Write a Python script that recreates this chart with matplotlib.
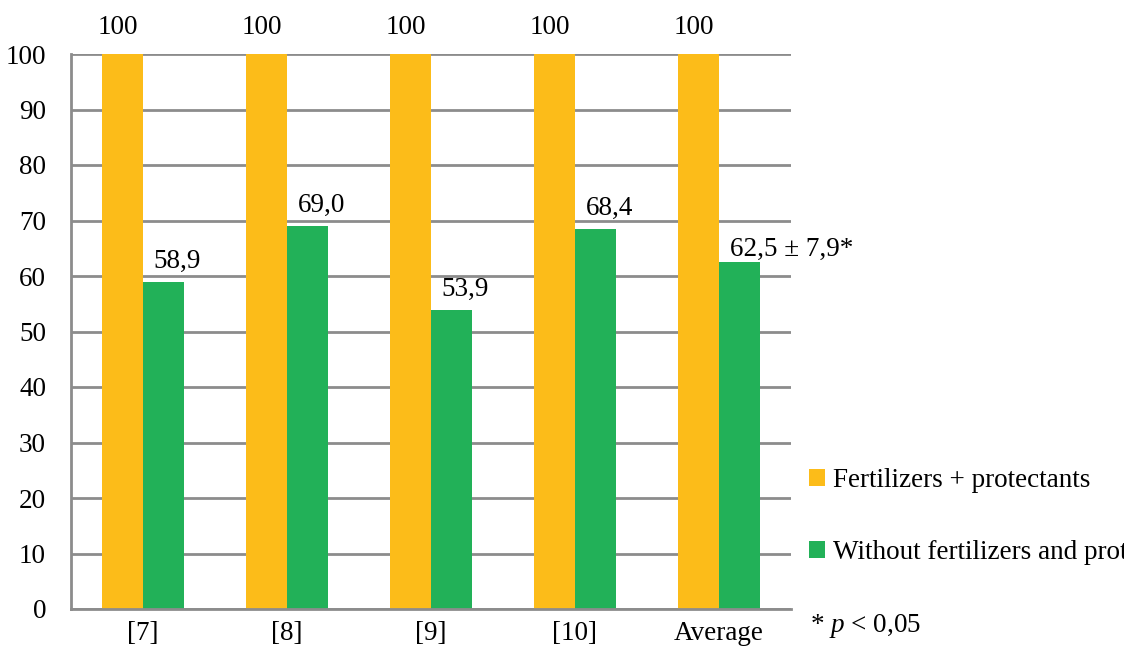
import matplotlib
matplotlib.use("Agg")
import matplotlib.pyplot as plt
import numpy as np

categories = ["[7]", "[8]", "[9]", "[10]", "Average"]
with_fert = [100, 100, 100, 100, 100]
without_fert = [58.9, 69.0, 53.9, 68.4, 62.5]
without_labels = ["58,9", "69,0", "53,9", "68,4", "62,5 ± 7,9*"]
series_names = ["Fertilizers + protectants", "Without fertilizers and protectants"]
yticks = list(range(0, 101, 10))

plt.rcParams['font.family'] = ['Liberation Serif', 'DejaVu Serif']
plt.rcParams['mathtext.fontset'] = 'custom'
plt.rcParams['mathtext.it'] = 'Liberation Serif:italic'
plt.rcParams['mathtext.rm'] = 'Liberation Serif'
FS = 19.5
orange = "#FCBC19"
green = "#22B158"
grid = "#8C8C8C"

fig = plt.figure(figsize=(11.24, 6.48), dpi=100)
ax = fig.add_axes([71/1124, 39/648, 720/1124, 555/648])

x = np.arange(len(categories))
w = 0.285
b1 = ax.bar(x - w/2, with_fert, w, color=orange, label=series_names[0], zorder=3)
b2 = ax.bar(x + w/2, without_fert, w, color=green, label=series_names[1], zorder=3)

ax.set_xlim(-0.5, len(categories) - 0.5)
ax.set_ylim(0, 100)
ax.set_yticks(yticks)
ax.set_yticklabels([str(t) for t in yticks], fontsize=FS)
ax.set_xticks(x)
ax.set_xticklabels(categories, fontsize=FS)
ax.tick_params(axis='y', length=0, pad=18)
ax.tick_params(axis='x', length=0, pad=9)
ax.yaxis.grid(True, color=grid, linewidth=2, zorder=0)
for s in ["top", "right"]:
    ax.spines[s].set_visible(False)
for s in ["left", "bottom"]:
    ax.spines[s].set_color(grid)
    ax.spines[s].set_linewidth(2)
    ax.spines[s].set_zorder(4)

for rect, v in zip(b1, with_fert):
    ax.annotate(str(v), (rect.get_x() + rect.get_width()/2, v), xytext=(-3, 10),
                textcoords="offset points", ha="center", va="bottom", fontsize=FS,
                annotation_clip=False)
for i, (rect, lab) in enumerate(zip(b2, without_labels)):
    cx = rect.get_x() + rect.get_width()/2
    if i == len(categories) - 1:
        ax.annotate(lab, (cx, rect.get_height()), xytext=(-7, 0),
                    textcoords="offset points", ha="left", va="bottom", fontsize=FS)
    else:
        ax.annotate(lab, (cx, rect.get_height()), xytext=(10, 6),
                    textcoords="offset points", ha="center", va="bottom", fontsize=FS)

leg = fig.legend(loc="upper left", bbox_to_anchor=(798/1124, 1 - 457/648),
                 frameon=False, fontsize=FS, handlelength=0.6, handleheight=0.6,
                 handletextpad=0.3, labelspacing=1.75, borderaxespad=0)

fig.text(810/1124, 1 - 626/648, r"* $\mathit{p}$ < 0,05", fontsize=FS, va="center", ha="left")

fig.savefig("out.png", dpi=100)
